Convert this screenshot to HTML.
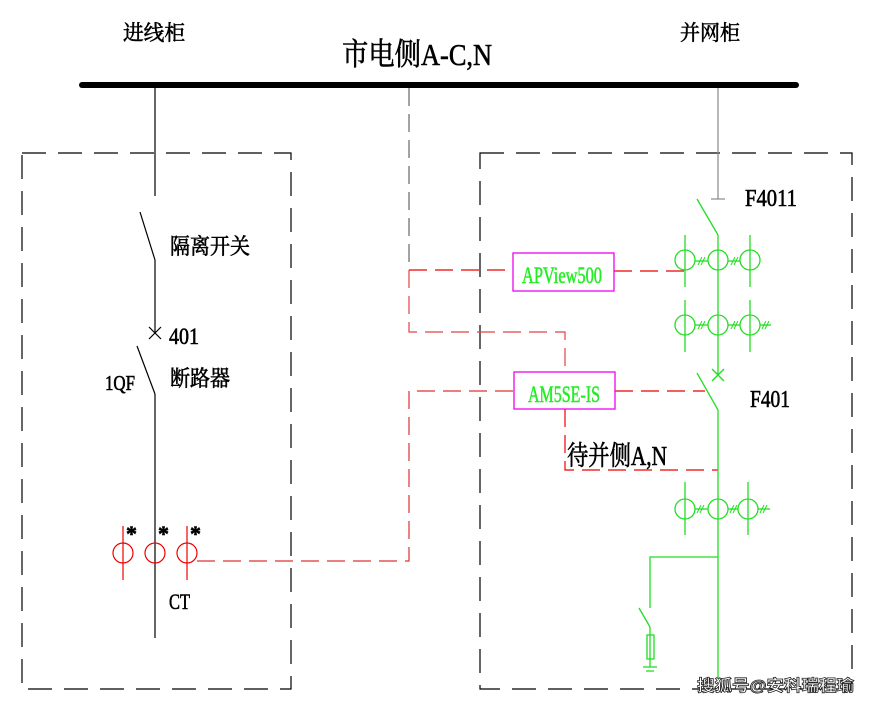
<!DOCTYPE html>
<html><head><meta charset="utf-8"><style>html,body{margin:0;padding:0;background:#fff}svg{display:block}text{font-family:"Liberation Serif","Noto Serif CJK SC",serif}.b{stroke:#000;stroke-width:0.6}</style></head>
<body>
<svg width="872" height="703" viewBox="0 0 872 703" xmlns="http://www.w3.org/2000/svg">
<rect width="872" height="703" fill="#fff"/>
<text class="b" x="123" y="40" font-size="21" textLength="62" lengthAdjust="spacingAndGlyphs">进线柜</text>
<text class="b" x="680" y="40" font-size="21" textLength="60" lengthAdjust="spacingAndGlyphs">并网柜</text>
<text class="b" x="342" y="65" font-size="31" textLength="150" lengthAdjust="spacingAndGlyphs">市电侧A-C,N</text>
<line x1="82" y1="85" x2="796" y2="85" stroke="#000" stroke-width="6" stroke-linecap="round"/>
<g fill="none" stroke="#000" stroke-width="1.2" stroke-dasharray="24,12">
<rect x="22" y="153" width="269" height="536"/>
<rect x="480" y="153" width="372" height="536"/>
</g>
<g stroke="#000" stroke-width="1.2" fill="none">
<line x1="155" y1="88" x2="155" y2="196"/>
<line x1="140" y1="212" x2="155" y2="260"/>
<line x1="155" y1="260" x2="155" y2="333"/>
<line x1="149" y1="327" x2="161" y2="339"/><line x1="161" y1="327" x2="149" y2="339"/>
<line x1="137" y1="346" x2="155" y2="394"/>
<line x1="155" y1="394" x2="155" y2="638"/>
</g>
<text class="b" x="170" y="254" font-size="22" textLength="80" lengthAdjust="spacingAndGlyphs">隔离开关</text>
<text class="b" x="169" y="344" font-size="23" textLength="30" lengthAdjust="spacingAndGlyphs">401</text>
<text class="b" x="170" y="386" font-size="22" textLength="60" lengthAdjust="spacingAndGlyphs">断路器</text>
<text class="b" x="105" y="390" font-size="21" textLength="30" lengthAdjust="spacingAndGlyphs">1QF</text>
<g stroke="#e00" stroke-width="1.2" fill="none">
<circle cx="123" cy="553" r="10"/><circle cx="155" cy="553" r="10"/><circle cx="187" cy="553" r="10"/>
<line x1="123" y1="526" x2="123" y2="580"/><line x1="187" y1="526" x2="187" y2="580"/>
</g>
<text class="b" x="126" y="541" font-size="22" font-weight="bold">*</text>
<text class="b" x="158" y="541" font-size="22" font-weight="bold">*</text>
<text class="b" x="190" y="541" font-size="22" font-weight="bold">*</text>
<text class="b" x="169" y="609" font-size="22" textLength="21" lengthAdjust="spacingAndGlyphs">CT</text>
<g fill="none" stroke-width="1.2" stroke-dasharray="18,8">
<polyline points="197,561 409,561 409,391 514,391" stroke="#d33"/>
<line x1="409" y1="88" x2="409" y2="270" stroke="#666"/>
<polyline points="409,270 409,332 565,332 565,372" stroke="#d44"/>
<line x1="409" y1="270" x2="513" y2="270" stroke="#e00"/>
<line x1="614" y1="271" x2="685" y2="271" stroke="#e00"/>
<line x1="615" y1="391" x2="705" y2="391" stroke="#e00"/>
<polyline points="565,409 565,470 718,470" stroke="#e00"/>
</g>
<rect x="513" y="253" width="101" height="38" fill="none" stroke="#e0e" stroke-width="1.3"/>
<text x="522" y="283" font-size="23" fill="#2e2" stroke="#2e2" stroke-width="0.5" textLength="80" lengthAdjust="spacingAndGlyphs">APView500</text>
<rect x="514" y="372" width="101" height="37" fill="none" stroke="#e0e" stroke-width="1.3"/>
<text x="528" y="402" font-size="23" fill="#2e2" stroke="#2e2" stroke-width="0.5" textLength="72" lengthAdjust="spacingAndGlyphs">AM5SE-IS</text>
<text class="b" x="567" y="465" font-size="27" textLength="100" lengthAdjust="spacingAndGlyphs">待并侧A,N</text>
<g stroke="#888" stroke-width="1.2"><line x1="718" y1="88" x2="718" y2="199"/><line x1="711" y1="199" x2="725" y2="199"/></g>
<g stroke="#2d2" stroke-width="1.3" fill="none">
<line x1="697" y1="199" x2="718" y2="235"/>
<line x1="718" y1="235" x2="718" y2="375"/>
<line x1="712" y1="369" x2="724" y2="381"/><line x1="724" y1="369" x2="712" y2="381"/>
<line x1="697" y1="373" x2="718" y2="410"/>
<line x1="718" y1="410" x2="718" y2="683"/>
<circle cx="685" cy="260" r="10"/><circle cx="718" cy="260" r="10"/><circle cx="750" cy="260" r="10"/>
<line x1="685" y1="235" x2="685" y2="287"/><line x1="750" y1="235" x2="750" y2="287"/>
<line x1="695" y1="261" x2="708" y2="261"/><line x1="728" y1="261" x2="740" y2="261"/>
<circle cx="685" cy="325" r="10"/><circle cx="718" cy="325" r="10"/><circle cx="750" cy="325" r="10"/>
<line x1="685" y1="300" x2="685" y2="352"/><line x1="750" y1="300" x2="750" y2="352"/>
<line x1="695" y1="325" x2="708" y2="325"/><line x1="728" y1="325" x2="740" y2="325"/><line x1="760" y1="325" x2="771" y2="325"/>
<circle cx="685" cy="509" r="10"/><circle cx="718" cy="509" r="10"/><circle cx="748" cy="509" r="10"/>
<line x1="685" y1="482" x2="685" y2="535"/><line x1="748" y1="482" x2="748" y2="535"/>
<line x1="695" y1="509" x2="708" y2="509"/><line x1="728" y1="509" x2="738" y2="509"/><line x1="758" y1="509" x2="770" y2="509"/>
<g stroke-width="1">
<path d="M698 265l4-8M701 265l4-8M731 265l4-8M734 265l4-8"/>
<path d="M698 329l4-8M701 329l4-8M731 329l4-8M734 329l4-8M762 329l4-8M765 329l4-8"/>
<path d="M697 513l4-8M700 513l4-8M730 513l4-8M733 513l4-8M760 513l4-8M763 513l4-8"/>
</g>
<polyline points="718,557 650,557 650,608"/>
<line x1="639" y1="608" x2="650" y2="627"/>
<line x1="650" y1="627" x2="650" y2="667"/>
<rect x="647" y="635" width="7" height="24"/>
<line x1="643" y1="667" x2="657" y2="667"/><line x1="646" y1="671" x2="654" y2="671"/>
</g>
<text class="b" x="745" y="206" font-size="24" textLength="52" lengthAdjust="spacingAndGlyphs">F4011</text>
<text class="b" x="750" y="407" font-size="24" textLength="40" lengthAdjust="spacingAndGlyphs">F401</text>
<text x="697" y="691" font-size="16" font-weight="bold" fill="#fff" stroke="#222" stroke-width="0.8" textLength="157" lengthAdjust="spacingAndGlyphs" style="font-family:'Liberation Sans','Noto Sans CJK SC',sans-serif">搜狐号@安科瑞程瑜</text>
</svg>
</body></html>
